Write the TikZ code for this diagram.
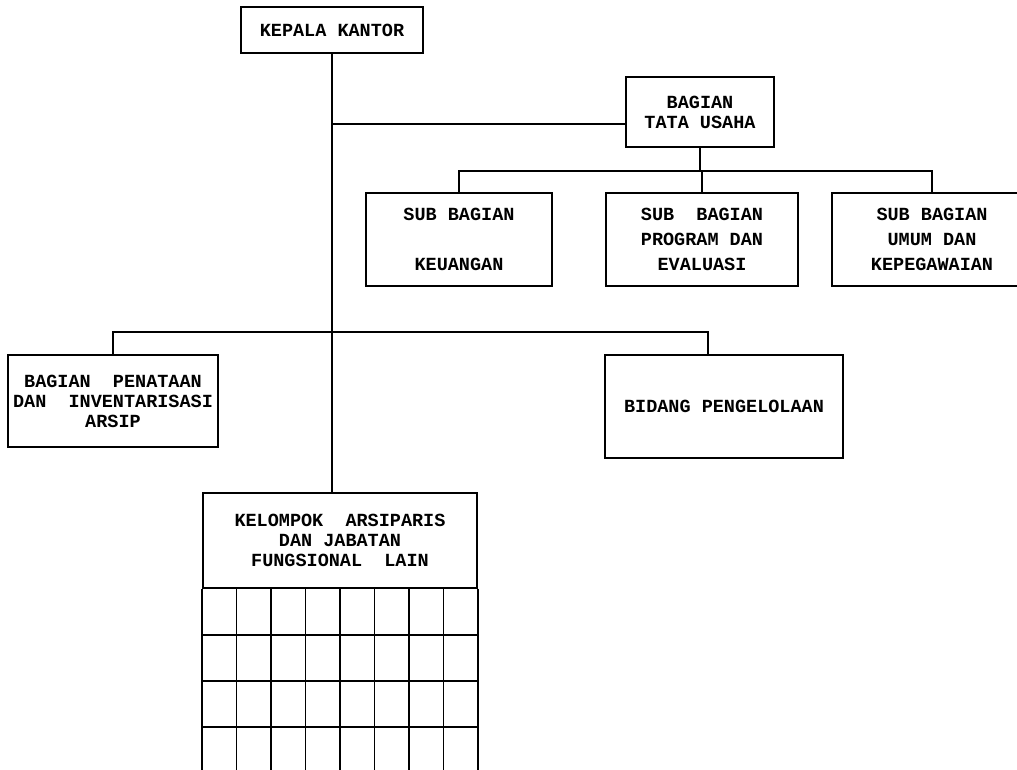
\documentclass[tikz,border=0pt]{standalone}
\usepackage{fontspec}
\setmonofont{Liberation Mono}
\usepackage{tikz}
\usetikzlibrary{positioning, calc}

\begin{document}
\begin{tikzpicture}[x=1pt, y=-1pt,
    box/.style={draw, line width=1.6pt, inner sep=2pt, align=center,
      font=\ttfamily\bfseries\fontsize{18.5}{20}\selectfont},
    subbox/.style={box, font=\ttfamily\bfseries\fontsize{18.5}{25}\selectfont,
      minimum width=#1, minimum height=93pt},
    link/.style={line width=1.6pt}]
    \useasboundingbox (0,0) rectangle (1017,770);
    \clip (0,0) rectangle (1017,770);
    \node[box, minimum width=182pt, minimum height=46pt] (kepala) at (332,30) {KEPALA KANTOR};
    \node[box, minimum width=148pt, minimum height=70pt] (tata) at (700,112) {BAGIAN\\TATA USAHA};
    \node[subbox=186pt] (keuangan) at (459,239.5) {SUB BAGIAN\\~\\KEUANGAN};
    \node[subbox=192pt] (program) at (702,239.5) {SUB~ BAGIAN\\PROGRAM DAN\\EVALUASI};
    \node[subbox=200pt] (kepeg) at (932,239.5) {SUB BAGIAN\\UMUM DAN\\KEPEGAWAIAN};
    \node[box, minimum width=210pt, minimum height=92pt] (penataan) at (113,401) {BAGIAN~ PENATAAN\\DAN~ INVENTARISASI\\ARSIP};
    \node[box, minimum width=238pt, minimum height=103pt] (bidang) at (724,406.5) {BIDANG PENGELOLAAN};
    \node[box, minimum width=274pt, minimum height=95pt] (kelompok) at (340,540.5) {KELOMPOK~ ARSIPARIS\\DAN JABATAN\\FUNGSIONAL~ LAIN};
    \coordinate (tatabar) at (0,124);
    \coordinate (subbar) at (0,171);
    \coordinate (mainbar) at (0,332);
    \draw[link] (kepala.south) -- (kepala.south |- kelompok.north);
    \draw[link] (kepala.south |- tatabar) -- (tata.west |- tatabar);
    \draw[link] (tata.south) -- (tata.south |- subbar);
    \draw[link] (keuangan.north) -- (keuangan.north |- subbar) -- (kepeg.north |- subbar) -- (kepeg.north);
    \draw[link] (program.north) -- (program.north |- subbar);
    \draw[link] (penataan.north) -- (penataan.north |- mainbar) -- ([xshift=-16pt]bidang.north |- mainbar) -- ([xshift=-16pt]bidang.north);
    \draw[link] (kelompok.south west) -- ++(0,230);
    \draw[link] (kelompok.south east) -- ++(0,230);
    \foreach \c in {1,...,7}
      \draw[link] ($(kelompok.south west)!\c/8!(kelompok.south east)$) -- ++(0,230);
    \foreach \r in {1,...,4}
      \draw[link] ($(kelompok.south west)+(0,\r*46)$) -- ($(kelompok.south east)+(0,\r*46)$);
  \end{tikzpicture}
\end{document}
